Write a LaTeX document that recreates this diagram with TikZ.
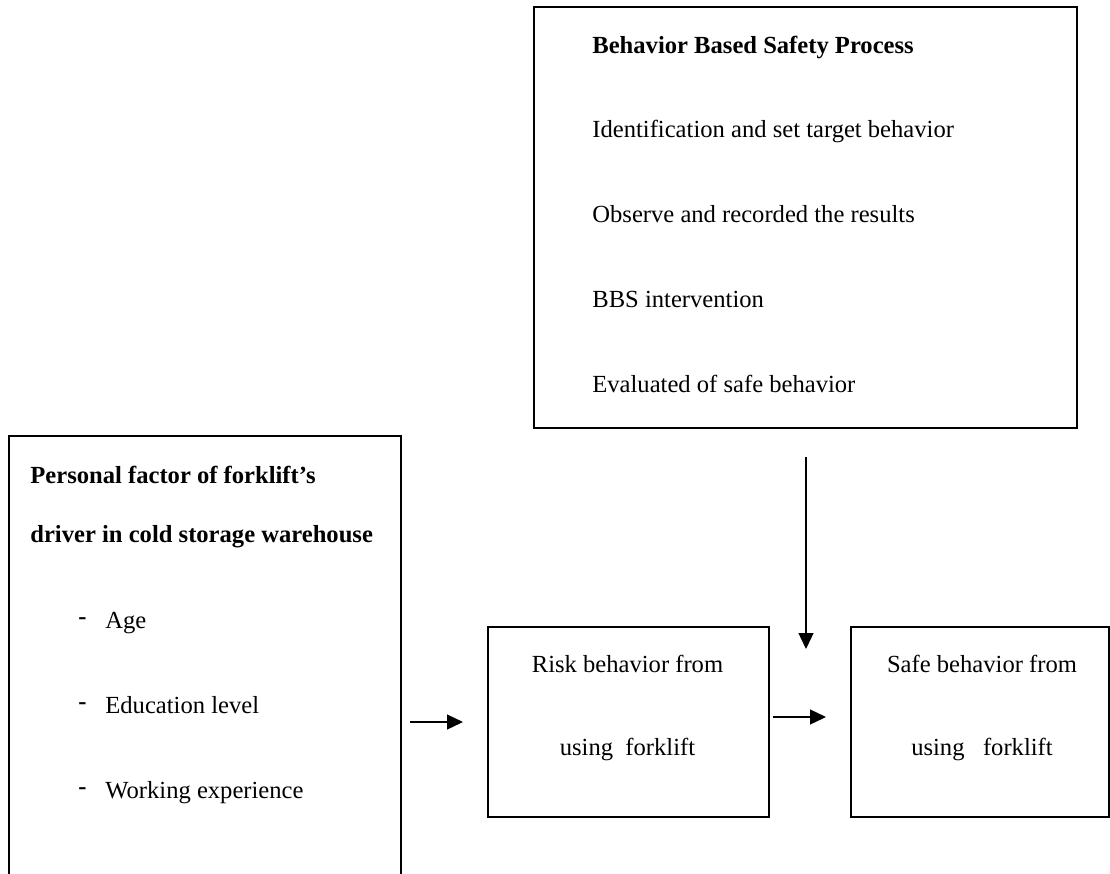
\documentclass[tikz,border=0pt]{standalone}
\usepackage{fontspec}
\setmainfont{Liberation Serif}
\usetikzlibrary{arrows.meta}
\begin{document}
\begin{tikzpicture}[x=0.5pt,y=-0.5pt,
  box/.style={draw, line width=0.75pt, rectangle, inner sep=0pt, anchor=north west},
  txt/.style={inner sep=0pt, anchor=base west, font=\fontsize{12.3}{14}\selectfont},
  btxt/.style={txt, font=\fontsize{12.3}{14}\selectfont\bfseries},
  ctxt/.style={txt, anchor=base},
  arr/.style={line width=0.65pt, -{Triangle[length=8pt,width=7.5pt]}}]
\clip (0,0) rectangle (1110,874);
\fill[white] (0,0) rectangle (1110,874);

% boxes
\node[box, minimum width=271.5pt, minimum height=210.5pt] (bbs) at (533,6) {};
\node[box, minimum width=196pt, minimum height=240pt] (pers) at (8,435) {};
\node[box, minimum width=140.5pt, minimum height=95pt] (risk) at (487,626) {};
\node[box, minimum width=129pt, minimum height=95pt] (safe) at (850,626) {};

% top box text
\node[btxt] (t0) at (592,53) {Behavior Based Safety Process};
\node[txt] (t1) at (592,137) {Identification and set target behavior};
\node[txt] (t2) at (592,222) {Observe and recorded the results};
\node[txt] (t3) at (592,307) {BBS intervention};
\node[txt] (t4) at (592,392) {Evaluated of safe behavior};

% left box text
\node[btxt] (p0) at (30,483) {Personal factor of forklift’s};
\node[btxt] (p1) at (30,542) {driver in cold storage warehouse};
\node[btxt] (d1) at (78,624) {-};
\node[txt] (p2) at (105,628) {Age};
\node[btxt] (d2) at (78,709) {-};
\node[txt] (p3) at (105,713) {Education level};
\node[btxt] (d3) at (78,794) {-};
\node[txt] (p4) at (105,798) {Working experience};

% middle and right box text
\node[ctxt] (r0) at (627.5,672) {Risk behavior from};
\node[ctxt] (r1) at (627.5,755) {using\ \ forklift};
\node[ctxt] (s0) at (982,672) {Safe behavior from};
\node[ctxt] (s1) at (982,755) {using\ \ \ forklift};

% connector end points
\coordinate (a1s) at (410,722);
\coordinate (a1e) at (463,722);
\coordinate (a2s) at (773,717);
\coordinate (a2e) at (826,717);
\coordinate (a3s) at (806,457);
\coordinate (a3e) at (806,649);

\draw[arr] (a1s) -- (a1e);
\draw[arr] (a2s) -- (a2e);
\draw[arr] (a3s) -- (a3e);
\end{tikzpicture}
\end{document}
